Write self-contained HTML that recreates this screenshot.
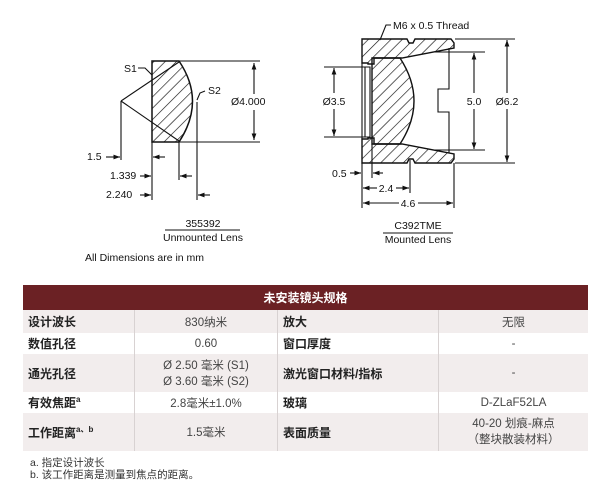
<!DOCTYPE html>
<html><head><meta charset="utf-8"><style>
body{margin:0;width:611px;height:494px;background:#fff;position:relative;overflow:hidden;font-family:"Liberation Sans","Noto Sans CJK SC",sans-serif}
svg{position:absolute;left:0;top:0}
.t{position:absolute;left:23px;top:285px;width:565px;border-collapse:collapse;font-size:11.5px;color:#222}
.t td{padding:0 5px;border-left:1px solid #d8d2d2;vertical-align:middle}
.t td:first-child{border-left:none}
.b{font-weight:bold;font-size:12px;color:#222}
.c{text-align:center;color:#444}
.h{background:#6b2124;color:#fff;font-weight:bold;text-align:center;height:25px;font-size:12px}
.g{background:#f2eded}
.fn{position:absolute;left:30px;top:457px;font-size:10.5px;line-height:12px;color:#333}
</style></head><body>
<svg width="611" height="300" font-family="Liberation Sans, sans-serif" font-size="10.5" fill="#111">
<defs><pattern id="hp" width="8" height="8" patternUnits="userSpaceOnUse" patternTransform="rotate(45)"><line x1="0" y1="0" x2="0" y2="8" stroke="#111" stroke-width="1.3"/></pattern>
<marker id="a" markerWidth="6" markerHeight="6" refX="6" refY="3" orient="auto"><path d="M0,0.8 L6,3 L0,5.2z" fill="#111"/></marker></defs>
<g stroke="#111" stroke-width="1.1" fill="none">
<path d="M152,61 L179,61 Q206,101 179,142 L152,142 Z" fill="url(#hp)" stroke-width="1.5"/>
<path d="M121,101 L179,62 M121,101 L179,141 M121,101 L121,160"/>
<path d="M179,61 L260,61 M179,142 L260,142"/>
<path d="M254,94 L254,63" marker-end="url(#a)"/><path d="M254,110 L254,140" marker-end="url(#a)"/>
<path d="M152,142 L152,200 M179,142 L179,180 M197,102 L197,200"/>
<path d="M106,157 L120,157" marker-end="url(#a)"/><path d="M165,157 L153,157" marker-end="url(#a)"/>
<path d="M140,176 L151,176" marker-end="url(#a)"/><path d="M192,176 L180,176" marker-end="url(#a)"/>
<path d="M140,195 L151,195" marker-end="url(#a)"/><path d="M210,195 L198,195" marker-end="url(#a)"/>
<path d="M138,68 L145,68 L152,75 M205,91 L200,93 L197,100"/>
<path d="M165,230 L240,230"/>
<path d="M362,39 L407,39 L409,43 L413,43 L415,39 L451,39 L454,43 L454,48 L402,58 L374,58 L374,64 L368,64 L368,63 L362,63 Z" fill="url(#hp)" stroke-width="1.4"/>
<path d="M362,163 L407,163 L409,159 L413,159 L415,163 L451,163 L454,159 L454,154 L402,144 L374,144 L374,138 L368,138 L368,139 L362,139 Z" fill="url(#hp)" stroke-width="1.4"/>
<path d="M372,58 L400,58 Q428,101 400,144 L372,144 Z" fill="url(#hp)" stroke-width="1.4"/>
<path d="M362,63 L362,139 M365,67 L370,67 L370,137 L365,137 Z"/>
<path d="M449,48 L449,89 L438,89 L438,112 L449,112 L449,153"/>
<path d="M324,67 L365,67 M324,137 L365,137 M432,52 L485,52 M432,150 L485,150 M455,39 L515,39 M455,163 L515,163"/>
<path d="M334,93 L334,68" marker-end="url(#a)"/><path d="M334,109 L334,136" marker-end="url(#a)"/>
<path d="M474,93 L474,53" marker-end="url(#a)"/><path d="M474,109 L474,149" marker-end="url(#a)"/>
<path d="M507,93 L507,40" marker-end="url(#a)"/><path d="M507,109 L507,162" marker-end="url(#a)"/>
<path d="M362,163 L362,208 M410,160 L410,193 M454,163 L454,208 M372,144 L372,178"/>
<path d="M350,173 L361,173" marker-end="url(#a)"/><path d="M383,173 L373,173" marker-end="url(#a)"/>
<path d="M377,188 L363,188" marker-end="url(#a)"/><path d="M396,188 L409,188" marker-end="url(#a)"/>
<path d="M399,203 L363,203" marker-end="url(#a)"/><path d="M418,203 L453,203" marker-end="url(#a)"/>
<path d="M391,25 L386,25 L380,40"/>
<path d="M383,233 L453,233"/>
</g>
<text x="124" y="72">S1</text><text x="208" y="94">S2</text>
<text x="231" y="105">Ø4.000</text>
<text x="87" y="160">1.5</text><text x="110" y="179">1.339</text><text x="106" y="198">2.240</text>
<text x="203" y="227" text-anchor="middle">355392</text>
<text x="203" y="241" text-anchor="middle">Unmounted Lens</text>
<text x="85" y="261">All Dimensions are in mm</text>
<text x="393" y="29">M6 x 0.5 Thread</text>
<text x="334" y="105" text-anchor="middle">Ø3.5</text>
<text x="474" y="105" text-anchor="middle">5.0</text>
<text x="507" y="105" text-anchor="middle">Ø6.2</text>
<text x="332" y="177">0.5</text><text x="386" y="192" text-anchor="middle">2.4</text><text x="408" y="207" text-anchor="middle">4.6</text>
<text x="418" y="229" text-anchor="middle">C392TME</text>
<text x="418" y="243" text-anchor="middle">Mounted Lens</text>
</svg>
<table class="t">
<tr><td class="h" colspan="4">未安装镜头规格</td></tr>
<tr class="g" style="height:23px"><td class="b" style="width:101px">设计波长</td><td class="c" style="width:132px">830纳米</td><td class="b" style="width:150px">放大</td><td class="c">无限</td></tr>
<tr style="height:21px"><td class="b">数值孔径</td><td class="c">0.60</td><td class="b">窗口厚度</td><td class="c">-</td></tr>
<tr class="g" style="height:38px"><td class="b">通光孔径</td><td class="c">Ø 2.50 毫米 (S1)<br>Ø 3.60 毫米 (S2)</td><td class="b">激光窗口材料/指标</td><td class="c">-</td></tr>
<tr style="height:21px"><td class="b">有效焦距<sup style="font-size:8px">a</sup></td><td class="c">2.8毫米±1.0%</td><td class="b">玻璃</td><td class="c">D-ZLaF52LA</td></tr>
<tr class="g" style="height:38px"><td class="b">工作距离<sup style="font-size:8px">a、b</sup></td><td class="c">1.5毫米</td><td class="b">表面质量</td><td class="c" style="line-height:16px">40-20 划痕-麻点<br>（整块散装材料）</td></tr>
</table>
<div class="fn">a. 指定设计波长<br>b. 该工作距离是测量到焦点的距离。</div>
</body></html>
